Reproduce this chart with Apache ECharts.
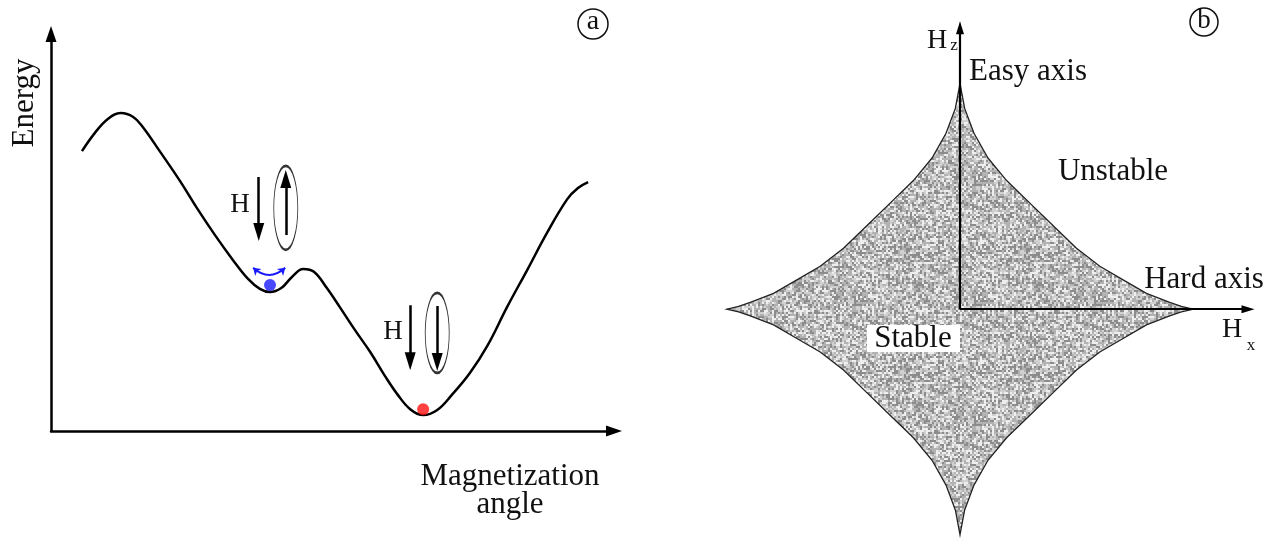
<!DOCTYPE html>
<html>
<head>
<meta charset="utf-8">
<script src="https://cdn.jsdelivr.net/npm/echarts@6/dist/echarts.min.js"></script>
<style>
  html, body { margin: 0; padding: 0; background: #fff; }
  #main { width: 1277px; height: 546px; }
</style>
</head>
<body>
<div id="main"></div>
<script type="text/javascript">
// (a) energy landscape vs magnetization angle (arbitrary units 0..100)
var angle  = [5.5, 7.8, 10.1, 12.4, 14.6, 16.3, 19.4, 22.9, 25.9, 29.1, 32.3, 35.0, 37.1, 38.9,
              40.9, 42.8, 44.8, 46.7, 49.0, 51.3, 54.0, 56.7, 59.3, 61.6, 63.8, 66.1, 68.6,
              71.2, 74.4, 77.6, 81.0, 84.6, 88.1, 91.7, 93.6, 95.4];
var energy = [70.5, 75.1, 78.6, 80.1, 79.1, 76.6, 70.3, 63.0, 56.2, 49.4, 43.1, 38.3, 35.8, 35.0,
              36.0, 38.8, 40.8, 40.1, 36.0, 31.2, 25.4, 19.9, 13.9, 9.1, 5.5, 4.0, 5.3,
              9.1, 14.6, 21.7, 31.2, 40.6, 49.9, 58.4, 61.2, 62.7];
var blueDot = [38.9, 36.8];
var redDot = [66.1, 5.5];
var fieldArrows = [[[36.9, 64.0], [36.9, 50.1]], [[63.8, 31.7], [63.8, 17.6]]];
var momentArrows = [[[41.7, 49.4], [41.7, 63.5]], [[68.6, 31.5], [68.6, 17.4]]];
var momentCenters = [[41.7, 56.2], [68.6, 24.7]];
var flipArc = [[35.9, 41.1], [41.6, 41.1]];

// (b) switching astroid, first quadrant (Hx, Hz)
var astroidHx = [1.0, 0.95, 0.9, 0.8, 0.7, 0.6, 0.5, 0.4, 0.3, 0.2, 0.12, 0.06, 0.02, 0.0];
var astroidHz = [0.0, 0.012, 0.03, 0.07, 0.13, 0.19, 0.27, 0.37, 0.47, 0.57, 0.67, 0.78, 0.89, 1.0];
var hzAxis = [[0, 0], [0, 1.247]];
var hxAxis = [[0, 0], [1.236, 0]];

var SERIF = '"Liberation Serif", "DejaVu Serif", serif';

function zip(a, b) {
  return a.map(function (v, i) { return [v, b[i]]; });
}

// closed outline from the quadrant
var q1 = zip(astroidHx, astroidHz);
var outline = [].concat(
  q1,
  q1.slice().reverse().map(function (p) { return [-p[0], p[1]]; }),
  q1.map(function (p) { return [-p[0], -p[1]]; }),
  q1.slice().reverse().map(function (p) { return [p[0], -p[1]]; })
);

// grey stipple texture
function speckle() {
  var n = 120, c = document.createElement('canvas');
  c.width = c.height = n;
  var ctx = c.getContext('2d');
  var s = 12345;
  for (var y = 0; y < n; y += 2) {
    for (var x = 0; x < n; x += 2) {
      s = (s * 1103515245 + 12345) & 0x7fffffff;
      var r = (s >> 8) % 100;
      var v = r < 25 ? 140 : r < 55 ? 178 : r < 78 ? 208 : 238;
      ctx.fillStyle = 'rgb(' + v + ',' + v + ',' + v + ')';
      ctx.fillRect(x, y, 2, 2);
    }
  }
  return c;
}
var stipple = { image: speckle(), repeat: 'repeat' };

var chart = echarts.init(document.getElementById('main'));

function label(x, y, text, size, extra) {
  var el = {
    type: 'text', x: x, y: y, z: 100,
    style: { text: text, font: size + 'px ' + SERIF, fill: '#111', align: 'center', verticalAlign: 'middle' }
  };
  if (extra) for (var k in extra) el[k] = extra[k];
  return el;
}

var option = {
  animation: false,
  backgroundColor: '#fff',
  grid: [
    { left: 51, top: 34, width: 563, height: 397 },
    { left: 715.35, top: 15.9, width: 559.2, height: 533.45 }
  ],
  xAxis: [
    {
      gridIndex: 0, type: 'value', min: 0, max: 100,
      axisLine: { show: true, onZero: false, symbol: ['none', 'triangle'], symbolSize: [11, 16],
                  lineStyle: { color: '#000', width: 2.5 } },
      axisTick: { show: false }, axisLabel: { show: false }, splitLine: { show: false }
    },
    { gridIndex: 1, type: 'value', min: -1.05, max: 1.35, show: false }
  ],
  yAxis: [
    {
      gridIndex: 0, type: 'value', min: 0, max: 100,
      axisLine: { show: true, onZero: false, symbol: ['none', 'triangle'], symbolSize: [11, 16],
                  lineStyle: { color: '#000', width: 2.5 } },
      axisTick: { show: false }, axisLabel: { show: false }, splitLine: { show: false }
    },
    { gridIndex: 1, type: 'value', min: -1.05, max: 1.3, show: false }
  ],
  series: [
    {
      type: 'line', xAxisIndex: 0, yAxisIndex: 0,
      data: zip(angle, energy), smooth: 0.4, showSymbol: false,
      lineStyle: { color: '#000', width: 2.5 }
    },
    {
      type: 'scatter', xAxisIndex: 0, yAxisIndex: 0, symbolSize: 12, z: 5,
      data: [
        { value: blueDot, itemStyle: { color: '#1a1aff' } },
        { value: redDot, itemStyle: { color: '#ff1010' } }
      ]
    },
    {
      type: 'scatter', xAxisIndex: 0, yAxisIndex: 0, symbol: 'circle',
      itemStyle: { color: 'rgba(0,0,0,0)', borderColor: '#000', borderWidth: 1.5 },
      data: [
        { value: momentCenters[0], symbolSize: [24, 84] },
        { value: momentCenters[1], symbolSize: [24, 80] }
      ]
    },
    {
      type: 'lines', coordinateSystem: 'cartesian2d', xAxisIndex: 0, yAxisIndex: 0,
      symbol: ['none', 'triangle'], symbolSize: [10, [11, 18]],
      lineStyle: { color: '#000', width: 2.5, opacity: 1 },
      data: fieldArrows.concat(momentArrows).map(function (c) { return { coords: c }; })
    },
    {
      type: 'lines', coordinateSystem: 'cartesian2d', xAxisIndex: 0, yAxisIndex: 0,
      symbol: ['arrow', 'arrow'], symbolSize: 7,
      lineStyle: { color: '#1a1aff', width: 2, opacity: 1, curveness: -0.45 },
      data: [{ coords: flipArc }]
    },
    {
      type: 'custom', xAxisIndex: 1, yAxisIndex: 1,
      data: [[0, 0]],
      renderItem: function (params, api) {
        var pts = outline.map(function (p) { return api.coord(p); });
        return {
          type: 'polygon',
          shape: { points: pts },
          style: { fill: stipple, stroke: '#222', lineWidth: 1.3 }
        };
      }
    },
    {
      type: 'lines', coordinateSystem: 'cartesian2d', xAxisIndex: 1, yAxisIndex: 1, z: 4,
      symbol: ['none', 'triangle'], symbolSize: [8, [8, 13]],
      lineStyle: { color: '#000', width: 2.2, opacity: 1 },
      data: [{ coords: hzAxis }, { coords: hxAxis }]
    }
  ],
  graphic: [
    label(25, 103, 'Energy', 31, { rotation: Math.PI / 2 }),
    label(510, 477, 'Magnetization', 31),
    label(510, 505, 'angle', 31),
    label(240, 205, 'H', 27),
    label(393, 332, 'H', 27),
    { type: 'circle', z: 100, shape: { cx: 593, cy: 24, r: 15 }, style: { fill: 'none', stroke: '#111', lineWidth: 1.5 } },
    label(593, 22, 'a', 28),
    { type: 'circle', z: 100, shape: { cx: 1204, cy: 22, r: 14 }, style: { fill: 'none', stroke: '#111', lineWidth: 1.5 } },
    label(1204, 21, 'b', 27),
    label(937, 41, 'H', 28),
    label(954, 46, 'z', 17),
    label(1028, 72, 'Easy axis', 31),
    label(1113, 172, 'Unstable', 31),
    label(1204, 280, 'Hard axis', 31),
    label(1232, 330, 'H', 28),
    label(1251, 346, 'x', 17),
    { type: 'rect', z: 99, shape: { x: 867, y: 325, width: 93, height: 27 }, style: { fill: '#fff' } },
    label(913, 339, 'Stable', 31)
  ]
};
chart.setOption(option);
</script>
</body>
</html>
